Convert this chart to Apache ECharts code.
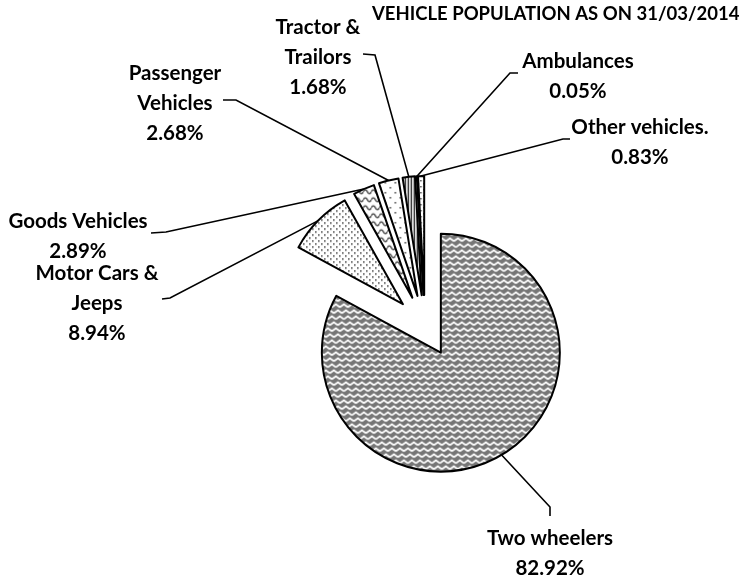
<!DOCTYPE html>
<html>
<head>
<meta charset="utf-8">
<script src="https://cdn.jsdelivr.net/npm/echarts@6/dist/echarts.min.js"></script>
<style>
html, body { margin: 0; padding: 0; background: #fff; }
#vehicleChart { width: 747px; height: 578px; }
</style>
</head>
<body>
<div id="vehicleChart"></div>
<script>
// vehicle population shares (%), as on 31/03/2014
var categories = ['Two wheelers', 'Motor Cars &\nJeeps', 'Goods Vehicles', 'Passenger\nVehicles',
	'Tractor &\nTrailors', 'Ambulances', 'Other vehicles.'];
var shares = [82.92, 8.94, 2.89, 2.68, 1.68, 0.05, 0.83];

// label layout (centre of text block) and the two points of the leader line next to the label
var labelPos = [[550, 553], [97, 303], [78, 236], [175, 103], [318, 57], [578, 76], [640, 142]];
var lineElbow = [[550, 507], [170, 298], [166, 232], [236, 100], [375, 55], [510, 73], [563, 139]];
var lineEnd = [[550, 516], [162, 299], [151, 233], [223, 100], [363, 54], [518, 73], [570, 139]];

var pieCenter = [425, 326];
var pieRadius = 119;
var explode = 31;

function makePattern(w, h, draw){
	var c = document.createElement('canvas');
	c.width = w; c.height = h;
	var ctx = c.getContext('2d');
	ctx.fillStyle = '#fff';
	ctx.fillRect(0, 0, w, h);
	draw(ctx, w, h);
	return {image: c, repeat: 'repeat'};
}

function dots(col, pts, r){
	return function(ctx){
		ctx.fillStyle = col;
		for(var i=0;i<pts.length;i++){
			ctx.fillRect(pts[i][0], pts[i][1], r, r);
		}
	};
}

var patterns = [
	// weave-ish: white zigzags on grey, each row shifted a bit
	makePattern(8, 24, function(ctx, w, h){
		ctx.fillStyle = '#767676';
		ctx.fillRect(0, 0, w, h);
		ctx.strokeStyle = '#fff';
		ctx.lineWidth = 1.8;
		for(var k=0;k<4;k++){
			var y0 = k * 6, sh = k * 2;
			ctx.beginPath();
			for(var x=-8;x<=16;x+=8){
				ctx.moveTo(x + sh, y0 + 4.5);
				ctx.lineTo(x + sh + 4, y0 + 1.5);
				ctx.lineTo(x + sh + 8, y0 + 4.5);
			}
			ctx.stroke();
		}
	}),
	makePattern(6, 6, dots('#555', [[1,1],[4,4]], 1.6)),
	// wave
	makePattern(8, 8, function(ctx){
		ctx.strokeStyle = '#222';
		ctx.lineWidth = 1.2;
		ctx.beginPath();
		ctx.moveTo(0, 4);
		ctx.quadraticCurveTo(2, 0, 4, 4);
		ctx.quadraticCurveTo(6, 8, 8, 4);
		ctx.stroke();
	}),
	makePattern(10, 10, dots('#555', [[2,2],[7,7]], 1.6)),
	makePattern(3, 3, function(ctx){
		ctx.fillStyle = '#000';
		ctx.fillRect(0, 0, 1.2, 3);
	}),
	'#000',
	makePattern(6, 6, dots('#333', [[1,1],[4,4]], 1.4))
];

var pieData = [];
for(var i=0;i<shares.length;i++){
	pieData.push({
		name: categories[i],
		value: shares[i],
		selected: true,
		itemStyle: {color: patterns[i]}
	});
}

// labels + leader lines (start at the middle of each exploded slice's arc)
var total = 0;
for(var i=0;i<shares.length;i++) total += shares[i];
var labelGraphics = [];
var cum = 0;
for(var i=0;i<shares.length;i++){
	var mid = (cum + shares[i] / 2) / total * Math.PI * 2;
	cum += shares[i];
	var sx = Math.sin(mid), sy = -Math.cos(mid);
	var ax = pieCenter[0] + (explode + pieRadius) * sx;
	var ay = pieCenter[1] + (explode + pieRadius) * sy;
	labelGraphics.push({
		type: 'polyline',
		silent: true,
		shape: {points: [[ax, ay], lineElbow[i], lineEnd[i]]},
		style: {stroke: '#000', lineWidth: 1.6, fill: null}
	});
	labelGraphics.push({
		type: 'text',
		silent: true,
		x: labelPos[i][0],
		y: labelPos[i][1],
		style: {
			text: categories[i] + '\n' + shares[i].toFixed(2) + '%',
			align: 'center',
			verticalAlign: 'middle',
			fontFamily: 'Lato',
			fontWeight: 'bold',
			fontSize: 20.5,
			lineHeight: 30,
			fill: '#000'
		}
	});
}

var chart = echarts.init(document.getElementById('vehicleChart'));
var option = {
	animation: false,
	title: {
		text: 'VEHICLE POPULATION AS ON 31/03/2014',
		left: 372,
		top: 5,
		padding: 0,
		textStyle: {fontFamily: 'Lato', fontWeight: 'bold', fontSize: 18.5, color: '#000'}
	},
	graphic: labelGraphics,
	series: [
		{
			type: 'pie',
			center: pieCenter,
			radius: pieRadius,
			startAngle: 90,
			clockwise: true,
			selectedMode: 'multiple',
			selectedOffset: explode,
			itemStyle: {borderColor: '#000', borderWidth: 2},
			emphasis: {disabled: true},
			label: {show: false},
			labelLine: {show: false},
			data: pieData
		}
	]
};
chart.setOption(option);
</script>
</body>
</html>
